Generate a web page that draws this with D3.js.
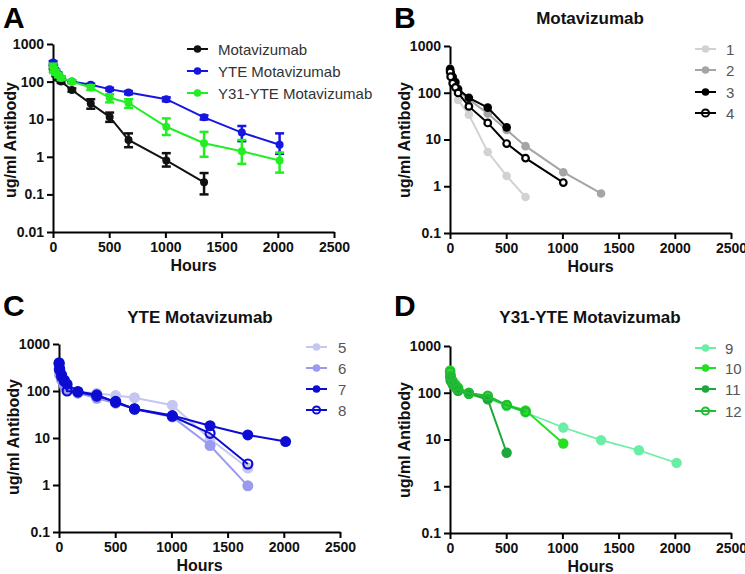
<!DOCTYPE html>
<html><head><meta charset="utf-8">
<script src="https://cdn.jsdelivr.net/npm/d3@7"></script>
<style>body{margin:0;background:#fff}svg{display:block}text{font-family:"Liberation Sans",Arial,sans-serif}</style>
</head><body><svg id="c" width="745" height="574"></svg>
<script>
// ---------- DATA ----------
const hours = [1, 6, 24, 48, 72, 168, 336, 504, 672, 1008, 1344, 1680, 2016];
const xTicks = [0, 500, 1000, 1500, 2000, 2500];
const yTicksA = [0.01, 0.1, 1, 10, 100, 1000];
const yTicksBCD = [0.1, 1, 10, 100, 1000];

// Panel A: group means with SD bounds
const motaMean = [240, 200, 150, 120, 100, 60, 26, 11.5, 2.8, 0.8, 0.21];
const motaLo   = [220, 185, 140, 110, 92, 54, 19, 8.5, 1.8, 0.55, 0.1];
const motaHi   = [260, 215, 160, 130, 108, 66, 34, 15, 4.2, 1.25, 0.37];
const yteMean  = [320, 260, 200, 160, 125, 100, 82, 63, 51, 34, 11.2, 4.4, 2.1];
const yteLo    = [290, 240, 185, 150, 115, 94, 76, 58, 46, 30, 9.8, 2.6, 1.2];
const yteHi    = [350, 280, 215, 170, 135, 106, 88, 68, 56, 38, 12.6, 6.6, 4.2];
const y31Mean  = [240, 210, 180, 150, 125, 100, 70, 37, 27, 6.3, 2.3, 1.4, 0.8];
const y31Lo    = [180, 170, 150, 130, 110, 90, 60, 28, 20, 3.8, 1.0, 0.65, 0.38];
const y31Hi    = [300, 250, 210, 170, 140, 110, 80, 46, 34, 10.5, 4.6, 2.8, 1.3];

// Panel B: Motavizumab individual animals
const b1 = [300, 240, 180, 130, 70, 34, 5.4, 1.66, 0.59];
const b2 = [330, 270, 200, 150, 110, 72, 36, 16, 7.2, 2.0, 0.7];
const b3 = [320, 270, 220, 170, 120, 78, 48, 18.2];
const b4 = [280, 220, 160, 130, 99, 51, 22.6, 8.2, 4.0, 1.2];

// Panel C: YTE Motavizumab
const c5 = [300, 250, 180, 140, 110, 95, 90, 80, 72, 50, 9.5, 2.3];
const c6 = [280, 220, 170, 130, 105, 90, 70, 55, 42, 28, 6.9, 0.96];
const c7 = [400, 300, 220, 170, 140, 98, 83, 57, 42, 30, 18.3, 11.6, 8.4];
const c8 = [380, 280, 200, 160, 100, 95, 78, 60, 41, 29, 12.6, 2.8];

// Panel D: Y31-YTE Motavizumab
const d9  = [250, 200, 160, 130, 110, 95, 75, 52, 38, 18, 9.7, 5.9, 3.16];
const d10 = [300, 240, 180, 150, 130, 100, 78, 55, 42, 8.2];
const d11 = [220, 180, 150, 130, 110, 95, 72, 5.2];
const d12 = [280, 220, 170, 140, 120, 98, 86, 54, 39];

// ---------- DRAW ----------
const svg = d3.select("#c");
const FONT = '"Liberation Sans",Arial,sans-serif';

function panel(cfg) {
  const g = svg.append("g");
  const x = d3.scaleLinear().domain([0, 2500]).range([cfg.x0, cfg.x1]);
  const y = d3.scaleLog().domain([cfg.yTicks[0], 1000]).range([cfg.yb, cfg.yt]);

  const ax = g.append("g").attr("transform", `translate(0,${cfg.yb})`)
    .call(d3.axisBottom(x).tickValues(xTicks).tickSize(6).tickSizeOuter(0).tickPadding(4).tickFormat(d3.format("d")));
  const ay = g.append("g").attr("transform", `translate(${cfg.x0},0)`)
    .call(d3.axisLeft(y).tickValues(cfg.yTicks).tickSize(6).tickSizeOuter(0).tickPadding(3).tickFormat(d => String(d)));
  [ax, ay].forEach(a => {
    a.select(".domain").attr("stroke", "#000").attr("stroke-width", 2);
    a.selectAll(".tick line").attr("stroke", "#000").attr("stroke-width", 2);
    a.selectAll(".tick text").attr("fill", "#111").style("font-family", FONT)
      .style("font-size", "14px").style("font-weight", "bold");
  });

  g.append("text").attr("x", (cfg.x0 + cfg.x1) / 2).attr("y", cfg.yb + 39)
    .attr("text-anchor", "middle").style("font-size", "16px").style("font-weight", "bold")
    .attr("fill", "#111").text("Hours");
  g.append("text").attr("transform", `translate(${cfg.ylx},${cfg.ylc}) rotate(-90)`)
    .attr("text-anchor", "middle").style("font-size", "16px").style("font-weight", "bold")
    .attr("fill", "#111").text("ug/ml Antibody");
  g.append("text").attr("x", cfg.lx).attr("y", cfg.ly).style("font-size", "30px")
    .style("font-weight", "bold").attr("fill", "#000").text(cfg.letter);
  if (cfg.title) g.append("text").attr("x", cfg.tx).attr("y", cfg.ty).attr("text-anchor", "middle")
    .style("font-size", "17px").style("font-weight", "bold").attr("fill", "#111").text(cfg.title);

  const line = d3.line().x(d => x(d.h)).y(d => y(d.v));
  cfg.series.forEach(s => {
    const pts = s.vals.map((v, i) => ({ h: hours[i], v, lo: s.lo ? s.lo[i] : null, hi: s.hi ? s.hi[i] : null }));
    g.append("path").datum(pts).attr("d", line).attr("fill", "none")
      .attr("stroke", s.color).attr("stroke-width", s.lw || 2);
    if (s.lo) {
      const eb = g.append("g");
      pts.forEach(p => {
        eb.append("line").attr("x1", x(p.h)).attr("x2", x(p.h)).attr("y1", y(p.lo)).attr("y2", y(p.hi))
          .attr("stroke", s.color).attr("stroke-width", 2.5);
        [p.lo, p.hi].forEach(b => eb.append("line").attr("x1", x(p.h) - 4.5).attr("x2", x(p.h) + 4.5)
          .attr("y1", y(b)).attr("y2", y(b)).attr("stroke", s.color).attr("stroke-width", 2.5));
      });
    }
    g.selectAll(null).data(pts).enter().append("circle")
      .attr("cx", d => x(d.h)).attr("cy", d => y(d.v)).attr("r", s.open ? cfg.r - 1 : cfg.r)
      .attr("fill", s.open ? cfg.openFill : s.color).attr("stroke", s.color).attr("stroke-width", s.open ? 2.2 : 0);
  });

  cfg.series.forEach((s, i) => {
    const yy = cfg.legY[i];
    g.append("line").attr("x1", cfg.legX).attr("x2", cfg.legX + 21).attr("y1", yy).attr("y2", yy)
      .attr("stroke", s.color).attr("stroke-width", 2);
    g.append("circle").attr("cx", cfg.legX + 10.5).attr("cy", yy).attr("r", s.open ? 3.6 : 3.8)
      .attr("fill", s.open ? "none" : s.color).attr("stroke", s.color).attr("stroke-width", s.open ? 2 : 0);
    g.append("text").attr("x", cfg.legTX).attr("y", yy + 5.5).style("font-size", "15px")
      .attr("fill", cfg.legColor).text(s.name);
  });
}

panel({
  letter: "A", lx: 3, ly: 28, x0: 53, x1: 334, yb: 232, yt: 44, yTicks: yTicksA,
  ylx: 16, ylc: 140, r: 4, openFill: "none",
  legX: 187, legTX: 218, legY: [49, 71, 93], legColor: "#333",
  series: [
    { name: "Motavizumab", vals: motaMean, lo: motaLo, hi: motaHi, color: "#111111" },
    { name: "YTE Motavizumab", vals: yteMean, lo: yteLo, hi: yteHi, color: "#1616e0" },
    { name: "Y31-YTE Motavizumab", vals: y31Mean, lo: y31Lo, hi: y31Hi, color: "#22ee22" }
  ]
});
panel({
  letter: "B", lx: 394, ly: 28, title: "Motavizumab", tx: 590, ty: 24,
  x0: 450, x1: 731, yb: 233, yt: 46, yTicks: yTicksBCD,
  ylx: 410, ylc: 140, r: 4.3, openFill: "#fff",
  legX: 695, legTX: 726, legY: [49, 70, 92, 113], legColor: "#555",
  series: [
    { name: "1", vals: b1, color: "#d2d2d2" },
    { name: "2", vals: b2, color: "#a5a5a5" },
    { name: "3", vals: b3, color: "#000000" },
    { name: "4", vals: b4, color: "#000000", open: true }
  ]
});
panel({
  letter: "C", lx: 3, ly: 316, title: "YTE Motavizumab", tx: 200, ty: 323,
  x0: 59, x1: 340, yb: 532, yt: 344, yTicks: yTicksBCD,
  ylx: 19, ylc: 437, r: 5.5, openFill: "none",
  legX: 306, legTX: 338, legY: [347, 368, 389, 410], legColor: "#555",
  series: [
    { name: "5", vals: c5, color: "#c6c6f2" },
    { name: "6", vals: c6, color: "#9a9aee" },
    { name: "7", vals: c7, color: "#0c0cd2" },
    { name: "8", vals: c8, color: "#0c0cd2", open: true }
  ]
});
panel({
  letter: "D", lx: 394, ly: 316, title: "Y31-YTE Motavizumab", tx: 590, ty: 323,
  x0: 450, x1: 731, yb: 533, yt: 346, yTicks: yTicksBCD,
  ylx: 410, ylc: 440, r: 5.2, openFill: "none",
  legX: 695, legTX: 725, legY: [348, 368, 389, 411], legColor: "#555",
  series: [
    { name: "9", vals: d9, color: "#6aeea6", lw: 1.6 },
    { name: "10", vals: d10, color: "#22e022" },
    { name: "11", vals: d11, color: "#1ca83a" },
    { name: "12", vals: d12, color: "#22bb33", open: true }
  ]
});
</script></body></html>
